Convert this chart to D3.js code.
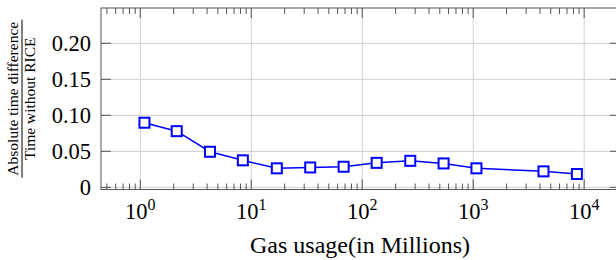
<!DOCTYPE html>
<meta charset="utf-8">
<style>
    body { margin: 0; background: #fff; }
    svg text { fill: #000; }
    .grid line { stroke: #cfcfcf; stroke-width: 1; }
    .tick-mark { stroke: #555; stroke-width: 1; }
    .frame { fill: none; stroke: #555; stroke-width: 1; }
    .series { fill: none; stroke: #0000ff; stroke-width: 1.5; }
    .mark { fill: #fff; stroke: #0000ff; stroke-width: 2; }
</style>
<body>
<script src="https://cdn.jsdelivr.net/npm/d3@7"></script>
<script>

    // gas usage (in millions) and relative time difference
    var gas = [1.09, 2.13, 4.25, 8.4, 17, 34, 68, 135, 271, 541, 1070, 4300, 8600];
    var ratio = [0.0897, 0.0780, 0.0494, 0.0375, 0.0264, 0.0276, 0.0286, 0.0340, 0.0368, 0.0332, 0.0264, 0.0222, 0.0185];

    var yTicks = [0, 0.05, 0.10, 0.15, 0.20];
    var yTickLabels = ["0", "0.05", "0.10", "0.15", "0.20"];
    var xDecades = [0, 1, 2, 3, 4];

    var width = 616, height = 260;
    var plot = {left: 101, right: 620, top: 8, bottom: 189.5};
    var serif = "'Liberation Serif', 'Times New Roman', 'DejaVu Serif', serif";

    var x = d3.scaleLog()
        .domain([Math.pow(10, -0.354), Math.pow(10, 4.323)])
        .range([plot.left, plot.right]);

    var y = d3.scaleLinear()
        .domain([-0.003, 0.249])
        .range([plot.bottom, plot.top]);

    var svg = d3.select("body").append("svg")
        .attr("width", width)
        .attr("height", height)
        .attr("font-family", serif);

    // minor/major x ticks
    var xMajor = xDecades.map(function(k) { return Math.pow(10, k); });
    var xMinor = [];
    for (var k = -1; k <= 4; k++) {
        for (var m = 2; m <= 9; m++) {
            var v = m * Math.pow(10, k);
            if (v > x.domain()[0] && v < x.domain()[1]) xMinor.push(v);
        }
    }

    var grid = svg.append("g").attr("class", "grid");
    grid.selectAll("line.v").data(xMajor).enter().append("line")
        .attr("class", "v")
        .attr("x1", function(d) { return x(d); })
        .attr("x2", function(d) { return x(d); })
        .attr("y1", plot.top).attr("y2", plot.bottom);
    grid.selectAll("line.h").data(yTicks).enter().append("line")
        .attr("class", "h")
        .attr("x1", plot.left).attr("x2", plot.right)
        .attr("y1", function(d) { return y(d); })
        .attr("y2", function(d) { return y(d); });

    var ticks = svg.append("g");
    [[plot.bottom, -1], [plot.top, 1]].forEach(function(side) {
        ticks.selectAll(null).data(xMinor).enter().append("line")
            .attr("class", "tick-mark")
            .attr("x1", function(d) { return x(d); })
            .attr("x2", function(d) { return x(d); })
            .attr("y1", side[0]).attr("y2", side[0] + side[1] * 6);
        ticks.selectAll(null).data(xMajor).enter().append("line")
            .attr("class", "tick-mark")
            .attr("x1", function(d) { return x(d); })
            .attr("x2", function(d) { return x(d); })
            .attr("y1", side[0]).attr("y2", side[0] + side[1] * 10);
    });
    [[plot.left, 1], [plot.right, -1]].forEach(function(side) {
        ticks.selectAll(null).data(yTicks).enter().append("line")
            .attr("class", "tick-mark")
            .attr("x1", side[0]).attr("x2", side[0] + side[1] * 10)
            .attr("y1", function(d) { return y(d); })
            .attr("y2", function(d) { return y(d); });
    });

    svg.append("rect")
        .attr("class", "frame")
        .attr("x", plot.left).attr("y", plot.top)
        .attr("width", plot.right - plot.left)
        .attr("height", plot.bottom - plot.top);

    // y tick labels
    svg.selectAll("text.ylab").data(yTicks).enter().append("text")
        .attr("class", "ylab")
        .attr("x", plot.left - 10)
        .attr("y", function(d) { return y(d); })
        .attr("dy", "0.35em")
        .attr("text-anchor", "end")
        .style("font-size", "22.5px")
        .text(function(d, i) { return yTickLabels[i]; });

    // x tick labels 10^k
    var xl = svg.selectAll("text.xlab").data(xDecades).enter().append("text")
        .attr("class", "xlab")
        .attr("x", function(d) { return x(Math.pow(10, d)); })
        .attr("y", 219)
        .attr("text-anchor", "middle")
        .style("font-size", "22.5px");
    xl.append("tspan").text("10");
    xl.append("tspan")
        .attr("dy", -9)
        .style("font-size", "16px")
        .text(function(d) { return d; });

    // axis titles
    svg.append("text")
        .attr("x", 360).attr("y", 253)
        .attr("text-anchor", "middle")
        .style("font-size", "24px")
        .text("Gas usage(in Millions)");

    var cy = (plot.top + plot.bottom) / 2;
    var ylab = svg.append("g")
        .attr("transform", "translate(22," + cy + ") rotate(-90)");
    ylab.append("text")
        .attr("x", 0).attr("y", -4)
        .attr("text-anchor", "middle")
        .style("font-size", "15.5px")
        .text("Absolute time difference");
    ylab.append("line")
        .attr("x1", -79).attr("x2", 79)
        .attr("y1", 0).attr("y2", 0)
        .attr("stroke", "#000").attr("stroke-width", 1);
    ylab.append("text")
        .attr("x", 0).attr("y", 13)
        .attr("text-anchor", "middle")
        .style("font-size", "15.5px")
        .text("Time without RICE");

    // series
    var pts = gas.map(function(g, i) { return [g, ratio[i]]; });
    var line = d3.line()
        .x(function(d) { return x(d[0]); })
        .y(function(d) { return y(d[1]); });

    svg.append("path")
        .datum(pts)
        .attr("class", "series")
        .attr("d", line);

    svg.selectAll("rect.mark").data(pts).enter().append("rect")
        .attr("class", "mark")
        .attr("x", function(d) { return x(d[0]) - 5; })
        .attr("y", function(d) { return y(d[1]) - 5; })
        .attr("width", 10).attr("height", 10);

</script>
